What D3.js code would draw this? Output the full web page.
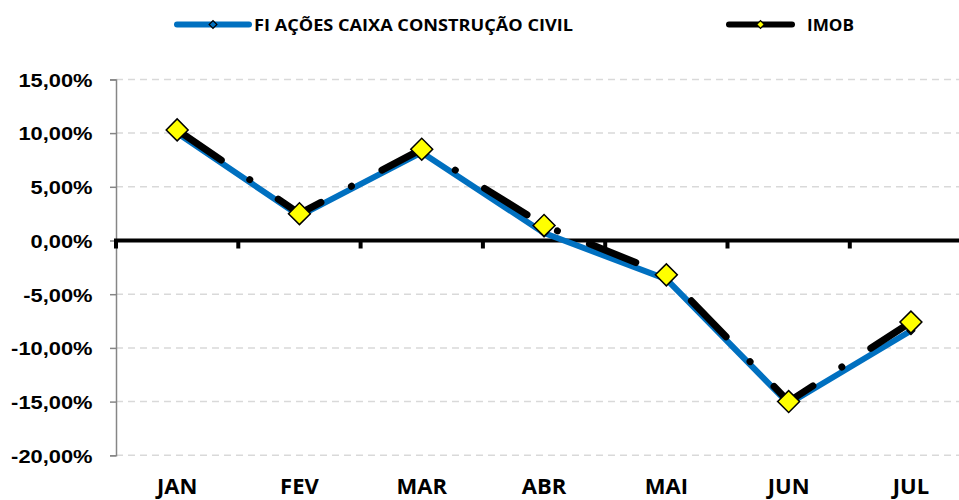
<!DOCTYPE html>
<html>
<head>
<meta charset="utf-8">
<script src="https://cdn.jsdelivr.net/npm/d3@7"></script>
<style>
  html, body { margin: 0; padding: 0; background: #fff; }
  svg { display: block; font-family: "Open Sans", sans-serif; font-weight: bold; }
</style>
</head>
<body>
<svg width="959" height="500"></svg>
<script>
// data
const months = ["JAN", "FEV", "MAR", "ABR", "MAI", "JUN", "JUL"];
const fiCaixa = [10.0, 2.3, 8.2, 0.7, -3.6, -15.2, -8.4];
const imob = [10.3, 2.5, 8.5, 1.4, -3.2, -15.0, -7.6];
const yTicks = [15, 10, 5, 0, -5, -10, -15, -20];
const seriesNames = ["FI AÇÕES CAIXA CONSTRUÇÃO CIVIL", "IMOB"];

const svg = d3.select("svg");
const width = +svg.attr("width");

const blue = "#0070C0";
const yellow = "#FFFF00";

// widen text a bit (original font is wider than Open Sans)
function stretch(sel, k) {
  sel.each(function() {
    const w = this.getComputedTextLength();
    d3.select(this).attr("textLength", w * k).attr("lengthAdjust", "spacingAndGlyphs");
  });
}

// scales
const x = d3.scaleBand().domain(months).range([116, 116 + 7 * 122.3]);
const y = d3.scaleLinear().domain([-20, 15]).range([455.3, 79.4]);
const fmt = v => d3.format(".2f")(v).replace("−", "-").replace(".", ",") + "%";

// grid lines
svg.append("g")
  .selectAll("line")
  .data(yTicks.filter(d => d !== 0))
  .join("line")
  .attr("x1", 116).attr("x2", width)
  .attr("y1", d => y(d)).attr("y2", d => y(d))
  .attr("stroke", "#d9d9d9")
  .attr("stroke-width", 1.5)
  .attr("stroke-dasharray", "7,5");

// y axis
const yAxis = svg.append("g")
  .attr("transform", "translate(116,0)")
  .call(d3.axisLeft(y).tickValues(yTicks).tickSize(6).tickPadding(17.5).tickFormat(fmt));
yAxis.select(".domain").attr("stroke", "#868686").attr("stroke-width", 1.5);
yAxis.selectAll(".tick line").attr("stroke", "#868686").attr("stroke-width", 1.5);
yAxis.selectAll(".tick text")
  .attr("font-family", null)
  .attr("font-size", 19)
  .attr("fill", "#000")
  .attr("dy", "0.36em")
  .call(stretch, 1.15);

// zero line with ticks
const xAxis = svg.append("g")
  .attr("transform", `translate(0,${y(0)})`);
xAxis.append("line")
  .attr("x1", 114).attr("x2", width)
  .attr("stroke", "#000").attr("stroke-width", 4);
xAxis.selectAll(".xt")
  .data(months)
  .join("line")
  .attr("class", "xt")
  .attr("x1", d => x(d)).attr("x2", d => x(d))
  .attr("y1", 0).attr("y2", 8)
  .attr("stroke", "#000").attr("stroke-width", 4);

// month labels
svg.append("g")
  .selectAll("text")
  .data(months)
  .join("text")
  .attr("x", d => x(d) + x.bandwidth() / 2)
  .attr("y", 494)
  .attr("text-anchor", "middle")
  .attr("font-size", 22)
  .text(d => d);

const cx = i => x(months[i]) + x.bandwidth() / 2;
const line = d3.line().x((d, i) => cx(i)).y(d => y(d));
const square = d3.symbol().type(d3.symbolSquare);

// FI series
svg.append("path")
  .datum(fiCaixa)
  .attr("d", line)
  .attr("fill", "none")
  .attr("stroke", blue)
  .attr("stroke-width", 6)
  .attr("stroke-linejoin", "round");

svg.append("g")
  .selectAll("path")
  .data(fiCaixa)
  .join("path")
  .attr("d", square.size(30))
  .attr("transform", (d, i) => `translate(${cx(i)},${y(d)}) rotate(45)`)
  .attr("fill", blue).attr("stroke", "#000").attr("stroke-width", 1.2);

// IMOB series
svg.append("path")
  .datum(imob)
  .attr("d", line)
  .attr("fill", "none")
  .attr("stroke", "#000")
  .attr("stroke-width", 7)
  .attr("stroke-linecap", "round")
  .attr("stroke-linejoin", "round")
  .attr("stroke-dasharray", "50,34.5,0.01,34.5")
  .attr("stroke-dashoffset", -3.5);

svg.append("g")
  .selectAll("path")
  .data(imob)
  .join("path")
  .attr("d", square.size(240))
  .attr("transform", (d, i) => `translate(${cx(i)},${y(d)}) rotate(45)`)
  .attr("fill", yellow).attr("stroke", "#000").attr("stroke-width", 1.5);

// legend
const legend = svg.append("g");
const legendItems = [
  { name: seriesNames[0], x1: 177, x2: 249, color: blue, fill: blue, tx: 254, tw: 319 },
  { name: seriesNames[1], x1: 729, x2: 792, color: "#000", fill: yellow, tx: 807, tw: 47 }
];
legendItems.forEach(d => {
  legend.append("line")
    .attr("x1", d.x1).attr("x2", d.x2)
    .attr("y1", 24.5).attr("y2", 24.5)
    .attr("stroke", d.color).attr("stroke-width", 6)
    .attr("stroke-linecap", "round");
  legend.append("path")
    .attr("d", square.size(30))
    .attr("transform", `translate(${(d.x1 + d.x2) / 2},24.5) rotate(45)`)
    .attr("fill", d.fill).attr("stroke", "#000").attr("stroke-width", 1.2);
  legend.append("text")
    .attr("x", d.tx).attr("y", 30.5)
    .attr("font-size", 16.5)
    .attr("textLength", d.tw)
    .attr("lengthAdjust", "spacingAndGlyphs")
    .text(d.name);
});
</script>
</body>
</html>
